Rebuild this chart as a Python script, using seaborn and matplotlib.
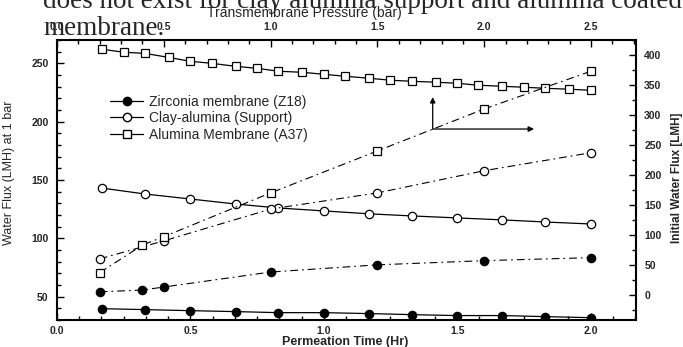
import matplotlib
matplotlib.use("Agg")
import matplotlib.pyplot as plt
import seaborn as sns
from matplotlib.ticker import MultipleLocator, FormatStrFormatter
from matplotlib.lines import Line2D

# flux vs permeation time (bottom / left axes)
time_5min = [0.17, 0.25, 0.33, 0.42, 0.5, 0.58, 0.67, 0.75, 0.83, 0.92, 1.0, 1.08,
             1.17, 1.25, 1.33, 1.42, 1.5, 1.58, 1.67, 1.75, 1.83, 1.92, 2.0]
flux_a37 = [262, 259.5, 258.5, 255, 251.7, 250, 247.4, 245.7, 243.2, 242.3, 240.6, 238.9,
            237.2, 235.5, 234.6, 233.8, 232.9, 231.2, 230.3, 229.5, 228.6, 227.8, 226.9]
time_10min = [0.17, 0.33, 0.5, 0.67, 0.83, 1.0, 1.17, 1.33, 1.5, 1.67, 1.83, 2.0]
flux_support = [143, 138, 133.7, 129.4, 126, 123.5, 121, 119.2, 117.5, 115.8, 114, 112.3]
flux_z18 = [39.7, 38.9, 38, 37.2, 36.3, 36.3, 35.5, 34.6, 33.8, 33.8, 32.9, 32]

# initial flux vs transmembrane pressure (top / right axes)
p_z18 = [0.2, 0.4, 0.5, 1.0, 1.5, 2.0, 2.5]
init_z18 = [5, 8, 13, 38, 50, 57, 62]
p_support = [0.2, 0.5, 1.0, 1.5, 2.0, 2.5]
init_support = [60, 90, 143, 170, 207, 237]
p_a37 = [0.2, 0.4, 0.5, 1.0, 1.5, 2.0, 2.5]
init_a37 = [37, 83, 97, 170, 240, 310, 373]

labels = ["Zirconia membrane (Z18)", "Clay-alumina (Support)", "Alumina Membrane (A37)"]

sns.set_style("ticks")
plt.rcParams['font.family'] = ['Liberation Sans', 'DejaVu Sans']

fig = plt.figure(figsize=(6.83, 3.47), dpi=100)
pos = [0.0835, 0.0778, 0.8475, 0.807]
ax = fig.add_axes(pos)
ax3 = fig.add_axes(pos)
ax3.set_facecolor('none')
for s in ax3.spines.values():
    s.set_visible(False)
for s in ax.spines.values():
    s.set_linewidth(1.5)
    s.set_color('black')

ms = 6
solid = dict(color='black', linewidth=0.9, markeredgecolor='black', markeredgewidth=0.9, markersize=ms)
sns.lineplot(x=time_10min, y=flux_z18, ax=ax, marker='o', markerfacecolor='black', **solid)
sns.lineplot(x=time_10min, y=flux_support, ax=ax, marker='o', markerfacecolor='white', **solid)
sns.lineplot(x=time_5min, y=flux_a37, ax=ax, marker='s', markerfacecolor='white',
             **{**solid, 'markersize': 5.5})

dd = dict(color='black', linewidth=0.8, linestyle=(0, (7, 3.6, 1.5, 3.6)),
          markeredgecolor='black', markeredgewidth=0.9, markersize=ms)
sns.lineplot(x=p_z18, y=init_z18, ax=ax3, marker='o', markerfacecolor='black', **dd)
sns.lineplot(x=p_support, y=init_support, ax=ax3, marker='o', markerfacecolor='white', **dd)
sns.lineplot(x=p_a37, y=init_a37, ax=ax3, marker='s', markerfacecolor='white',
             **{**dd, 'markersize': 5.5})

ax.set_xlim(0, 2.17)
ax.set_ylim(30, 270)
ax3.set_xlim(0, 2.71)
ax3.set_ylim(-42, 425)

ax.xaxis.set_major_locator(MultipleLocator(0.5))
ax.xaxis.set_minor_locator(MultipleLocator(0.5 / 6))
ax.xaxis.set_major_formatter(FormatStrFormatter('%.1f'))
ax.yaxis.set_major_locator(MultipleLocator(50))
ax.yaxis.set_minor_locator(MultipleLocator(10))
ax.tick_params(which='both', direction='in', top=False, right=False, color='black')
ax.tick_params(which='major', length=5, width=1, pad=6)
ax.tick_params(axis='x', which='major', pad=4)
ax.tick_params(which='minor', length=3, width=1)

ax3.xaxis.tick_top()
ax3.yaxis.tick_right()
ax3.xaxis.set_major_locator(MultipleLocator(0.5))
ax3.xaxis.set_minor_locator(MultipleLocator(0.1))
ax3.xaxis.set_major_formatter(FormatStrFormatter('%.1f'))
ax3.yaxis.set_major_locator(MultipleLocator(50))
ax3.yaxis.set_minor_locator(MultipleLocator(25))
ax3.tick_params(which='both', direction='in', bottom=False, left=False, labelbottom=False,
                labelleft=False, top=True, right=True, labeltop=True, labelright=True, color='black')
ax3.tick_params(which='major', length=5, width=1, pad=6)
ax3.tick_params(which='minor', length=3, width=1)
ax3.set_yticks([0, 50, 100, 150, 200, 250, 300, 350, 400])

for a in (ax, ax3):
    for lab in a.get_xticklabels() + a.get_yticklabels():
        lab.set_fontsize(7.5)
        lab.set_fontweight('bold')

ax.set_xlabel("Permeation Time (Hr)", fontsize=9, fontweight='bold')
ax.xaxis.set_label_coords(0.497, -0.058)
ax.set_ylabel("Water Flux (LMH) at 1 bar", fontsize=9)
ax.yaxis.set_label_coords(-0.073, 0.525)
ax3.set_xlabel("Transmembrane Pressure (bar)", fontsize=10)
ax3.xaxis.set_label_position('top')
ax3.xaxis.set_label_coords(0.428, 1.083)
ax3.set_ylabel("Initial Water Flux [LMH]", fontsize=8.5, fontweight='bold', rotation=90)
ax3.yaxis.set_label_position('right')
ax3.yaxis.set_label_coords(1.06, 0.507)

# arrows pointing to the pressure / initial flux axes
arr = dict(arrowstyle='-|>', color='black', lw=0.9, mutation_scale=8, shrinkA=0, shrinkB=0)
ax3.annotate('', xy=(0.649, 0.796), xytext=(0.649, 0.682), xycoords='axes fraction', arrowprops=arr)
ax3.annotate('', xy=(0.824, 0.682), xytext=(0.649, 0.682), xycoords='axes fraction', arrowprops=arr)

for a in (ax, ax3):
    if a.get_legend() is not None:
        a.get_legend().remove()

handles = [
    Line2D([], [], color='black', lw=0.9, marker='o', markerfacecolor='black', markeredgecolor='black', markersize=ms),
    Line2D([], [], color='black', lw=0.9, marker='o', markerfacecolor='white', markeredgecolor='black', markersize=ms),
    Line2D([], [], color='black', lw=0.9, marker='s', markerfacecolor='white', markeredgecolor='black', markersize=5.5),
]
ax3.legend(handles, labels, loc='upper left', bbox_to_anchor=(0.075, 0.84), frameon=False,
           fontsize=10, handlelength=2.4, handletextpad=0.4, labelspacing=0.2, borderpad=0.2)

# surrounding document text that overlaps the figure
fig.text(43 / 683, 1 - 8 / 347, "does not exist for clay alumina support and alumina coated",
         family='Liberation Serif', fontsize=19.5, va='baseline', ha='left')
fig.text(43 / 683, 1 - 35 / 347, "membrane.", family='Liberation Serif', fontsize=19.5,
         va='baseline', ha='left')

fig.savefig("out.png", dpi=100)
